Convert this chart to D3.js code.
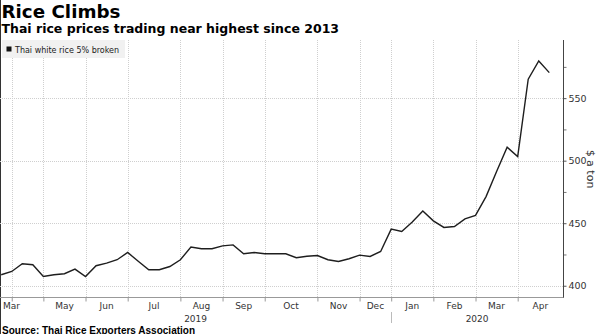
<!DOCTYPE html>
<html><head><meta charset="utf-8">
<script src="https://cdn.jsdelivr.net/npm/d3@7"></script>
<style>
html,body{margin:0;padding:0;background:#fff;}
svg{display:block;}
</style></head>
<body>
<svg id="chart" width="600" height="334"></svg>
<script>
// ---- data ----
const seriesName = "Thai white rice 5% broken";
const prices = [408.8,411.4,417.6,416.8,407.4,408.8,409.6,413.3,407.4,416,418.1,420.8,426.6,
  419.6,412.8,412.8,415.4,420.8,430.9,429.6,429.6,431.9,432.7,425.6,426.6,425.6,425.6,425.6,
  422.4,423.6,424.2,420.8,419.4,421.6,424.5,423.4,427.4,445.3,443.4,450.9,459.7,451.9,446.6,
  447.4,453.5,456.2,471.3,491.3,510.8,503.3,565.1,579.7,570.4];
// index of first weekly observation of each month (Apr 2019 .. Apr 2020)
const monthStarts = [1,4,8,12,17,21,25,30,34,37,41,45,49];
// labels for month intervals: [axis start, 1], [1,4], ..., [49, axis end]
const monthLabels = ["Mar","","May","Jun","Jul","Aug","Sep","Oct","Nov","Dec","Jan","Feb","Mar","Apr"];
const yearLabels = ["2019","2020"];
const yearBreak = 37;
const yMajor = [400,450,500,550];
const yMinor = [425,475,525,575];

// ---- layout ----
const W = 600, H = 334;
const plotL = 0, plotR = 563, plotT = 40, plotB = 297;
const svg = d3.select("#chart");
const FONT = "'DejaVu Sans', sans-serif";
const BOLD = "'DejaVu Sans', sans-serif";
const BOLD2 = "'Liberation Sans', Arial, sans-serif";

const x = d3.scaleLinear().domain([0, prices.length - 1]).range([1.2, 549.3]);
const y = d3.scaleLinear().domain([391, 596.5]).range([plotB, plotT]);

// left border
svg.append("line").attr("x1",0.5).attr("x2",0.5).attr("y1",0).attr("y2",H)
  .attr("stroke","#333").attr("stroke-width",1);

// gridlines
const grid = svg.append("g");
grid.selectAll("line.h").data(yMajor).join("line")
  .attr("x1", plotL).attr("x2", plotR)
  .attr("y1", d => Math.round(y(d)) + 0.5).attr("y2", d => Math.round(y(d)) + 0.5)
  .attr("stroke", "#cfcfcf").attr("stroke-dasharray", "1,1");
grid.selectAll("line.v").data(monthStarts).join("line")
  .attr("x1", d => Math.round(x(d)) + 0.5).attr("x2", d => Math.round(x(d)) + 0.5)
  .attr("y1", plotT).attr("y2", plotB)
  .attr("stroke", "#cfcfcf").attr("stroke-dasharray", "1,1");

// legend
const lg = svg.append("g");
lg.append("rect").attr("x", 2).attr("y", 40).attr("width", 123).attr("height", 18).attr("fill", "#f1f1f1");
lg.append("rect").attr("x", 6.5).attr("y", 46.5).attr("width", 5).attr("height", 5).attr("fill", "#111");
lg.append("text").attr("x", 15).attr("y", 52.5).attr("font-family", FONT).attr("font-size", 8)
  .attr("fill", "#222").text(seriesName);

// line
svg.append("path").datum(prices)
  .attr("fill", "none").attr("stroke", "#1e1e1e").attr("stroke-width", 1.4)
  .attr("stroke-linejoin", "miter")
  .attr("d", d3.line().x((d, i) => x(i)).y(d => y(d)));

// right axis
const yAxis = svg.append("g").attr("transform", `translate(${plotR + 0.5},0)`);
yAxis.call(d3.axisRight(y).tickValues(yMajor).tickSize(3).tickPadding(2).tickFormat(d3.format("d")));
yAxis.select(".domain").remove();
yAxis.selectAll("text").attr("font-family", FONT).attr("font-size", 9.5).attr("fill", "#333");
yAxis.selectAll(".tick line").attr("stroke", "#555");
const yMin = svg.append("g").attr("transform", `translate(${plotR + 0.5},0)`);
yMin.call(d3.axisRight(y).tickValues(yMinor).tickSize(3).tickFormat(""));
yMin.select(".domain").remove();
yMin.selectAll(".tick line").attr("stroke", "#777");
svg.append("line").attr("x1", plotR + 0.5).attr("x2", plotR + 0.5).attr("y1", plotT).attr("y2", plotB + 1)
  .attr("stroke", "#444");

svg.append("text")
  .attr("transform", `translate(587,169) rotate(90)`)
  .attr("text-anchor", "middle").attr("font-family", FONT).attr("font-size", 11).attr("fill", "#333")
  .text("$ a ton");

// bottom axis
const xAxis = svg.append("g").attr("transform", `translate(0,${plotB + 0.5})`);
xAxis.call(d3.axisBottom(x).tickValues(monthStarts).tickSize(4).tickFormat(""));
xAxis.select(".domain").remove();
xAxis.selectAll(".tick line").attr("stroke", "#999");
svg.append("line").attr("x1", plotL).attr("x2", plotR + 0.5).attr("y1", plotB + 0.5).attr("y2", plotB + 0.5)
  .attr("stroke", "#999");

const bounds = [x.invert(plotL), ...monthStarts, x.invert(plotR)];
monthLabels.forEach((lab, i) => {
  if (!lab) return;
  const mid = (bounds[i] + bounds[i + 1]) / 2;
  const t = svg.append("text").attr("y", 308.5).attr("font-family", FONT).attr("font-size", 9)
    .attr("fill", "#333").text(lab);
  if (i === 0) t.attr("x", 3).attr("text-anchor", "start");
  else t.attr("x", x(mid)).attr("text-anchor", "middle");
});
// year labels + separator
const yearRanges = [[plotL, x(yearBreak)], [x(yearBreak), plotR]];
yearLabels.forEach((lab, i) => {
  svg.append("text").attr("x", (yearRanges[i][0] + yearRanges[i][1]) / 2).attr("y", 322)
    .attr("text-anchor", "middle").attr("font-family", FONT).attr("font-size", 9).attr("fill", "#333").text(lab);
});
svg.append("line").attr("x1", Math.round(x(yearBreak)) + 0.5).attr("x2", Math.round(x(yearBreak)) + 0.5)
  .attr("y1", 312).attr("y2", 323).attr("stroke", "#bbb");

// titles
svg.append("text").attr("x", 1.5).attr("y", 17.5).attr("font-family", BOLD).attr("font-weight", "bold")
  .attr("font-size", 18.3).attr("fill", "#000").text("Rice Climbs");
svg.append("text").attr("x", 1.5).attr("y", 32.5).attr("font-family", BOLD).attr("font-weight", "bold")
  .attr("font-size", 12.5).attr("fill", "#000").text("Thai rice prices trading near highest since 2013");
svg.append("text").attr("x", 2).attr("y", 333.5).attr("font-family", BOLD2).attr("font-weight", "bold")
  .attr("font-size", 10).attr("fill", "#000").text("Source: Thai Rice Exporters Association");
</script>
</body></html>
